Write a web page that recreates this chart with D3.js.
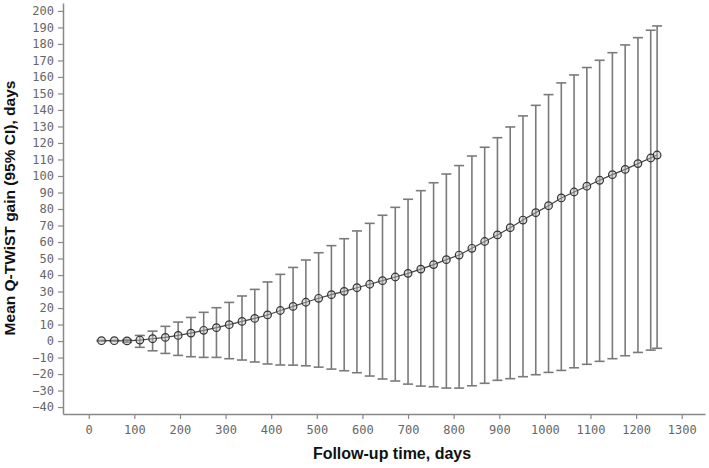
<!DOCTYPE html>
<html>
<head>
<meta charset="utf-8">
<script src="https://cdn.jsdelivr.net/npm/d3@7"></script>
<style>
  body { margin: 0; background: #fff; }
  .tick text { font-family: "DejaVu Sans Mono", monospace; font-size: 12px; fill: #666; }
  .axis-title { font-family: "Liberation Sans", Arial, sans-serif; font-weight: bold; fill: #111; }
</style>
</head>
<body>
<div id="chart"></div>
<script>
// follow-up time (days), one point every 4 weeks plus the last visit
const days = [28, 56, 84, 112, 140, 168, 196, 224, 252, 280, 308, 336, 364, 392, 420,
    448, 476, 504, 532, 560, 588, 616, 644, 672, 700, 728, 756, 784, 812, 840,
    868, 896, 924, 952, 980, 1008, 1036, 1064, 1092, 1120, 1148, 1176, 1204, 1232, 1246];
// mean Q-TWiST gain, days
const meanGain = [0.2, 0.2, 0.1, 0.6, 1.4, 2.2, 3.4, 4.8, 6.5, 8.1, 9.9, 11.9, 13.7, 15.8, 18.5,
    21.0, 23.5, 25.9, 28.1, 30.1, 32.3, 34.4, 36.6, 38.8, 41.0, 43.6, 46.3, 49.3, 52.1, 56.2,
    60.3, 64.3, 68.7, 73.3, 77.8, 82.0, 86.7, 90.3, 93.8, 97.4, 100.8, 104.0, 107.5, 110.9, 112.7];
// 95% CI bounds
const ciLow = [0, 0, -0.8, -3.8, -5.9, -7.5, -8.7, -9.5, -9.9, -9.9, -10.7, -11.5, -12.7, -13.9, -14.5,
    -14.6, -15.0, -15.8, -17.0, -18.0, -19.2, -21.2, -23.0, -24.2, -26.1, -27.3, -27.7, -28.5, -28.5, -27.1,
    -25.6, -23.8, -22.8, -21.6, -20.4, -19.0, -17.8, -16.2, -14.1, -12.3, -10.7, -8.9, -6.9, -5.5, -4.4];
const ciHigh = [0.4, 0.4, 0.9, 3.4, 6.0, 8.9, 11.5, 14.3, 17.4, 20.2, 23.4, 27.3, 31.3, 35.8, 40.4,
    44.6, 49.1, 53.5, 57.8, 62.0, 66.7, 71.3, 76.2, 81.0, 85.9, 91.1, 95.9, 101.2, 106.3, 112.1,
    117.4, 123.2, 129.7, 136.4, 142.8, 149.3, 156.4, 161.2, 165.7, 170.1, 174.7, 179.4, 183.8, 188.3, 190.9];

const xTicks = d3.range(0, 1301, 100);
const yTicks = d3.range(-40, 201, 10);

const data = days.map((d, i) => ({ day: d, mean: meanGain[i], lo: ciLow[i], hi: ciHigh[i] }));

const width = 709;
const height = 468;

const svg = d3.select("#chart").append("svg")
    .attr("width", width)
    .attr("height", height);

// scales
const xScale = d3.scaleLinear().domain([-56.4, 1351]).range([63, 705]);
const yScale = d3.scaleLinear().domain([-44.2, 204.8]).range([414, 3]);

// axes
const xAxis = svg.append("g")
    .attr("transform", `translate(0,${yScale.range()[0]})`)
    .call(d3.axisBottom(xScale).tickValues(xTicks).tickFormat(d3.format("d"))
        .tickSize(5).tickPadding(6).tickSizeOuter(0));

const yAxis = svg.append("g")
    .attr("transform", `translate(${xScale.range()[0]},0)`)
    .call(d3.axisLeft(yScale).tickValues(yTicks).tickSize(5).tickPadding(4).tickSizeOuter(0));

[xAxis, yAxis].forEach(g => {
    g.select(".domain").attr("stroke", "#888").attr("stroke-width", 1.5);
    g.selectAll(".tick line").attr("stroke", "#888").attr("stroke-width", 1.2);
});

// error bars
const bars = svg.append("g").selectAll("g")
    .data(data)
    .join("g")
    .attr("stroke", "#7a7a7a")
    .attr("stroke-width", 1.6);

bars.append("line")
    .attr("x1", d => xScale(d.day)).attr("x2", d => xScale(d.day))
    .attr("y1", d => yScale(d.lo)).attr("y2", d => yScale(d.hi));
bars.append("line")
    .attr("x1", d => xScale(d.day) - 5).attr("x2", d => xScale(d.day) + 5)
    .attr("y1", d => yScale(d.hi)).attr("y2", d => yScale(d.hi));
bars.append("line")
    .attr("x1", d => xScale(d.day) - 5).attr("x2", d => xScale(d.day) + 5)
    .attr("y1", d => yScale(d.lo)).attr("y2", d => yScale(d.lo));

// mean line
const line = d3.line()
    .x(d => xScale(d.day))
    .y(d => yScale(d.mean));

svg.append("path")
    .datum(data)
    .attr("fill", "none")
    .attr("stroke", "#444")
    .attr("stroke-width", 1.2)
    .attr("d", line);

// points (semi-transparent so the bar shows through, like the original)
svg.append("g").selectAll("circle")
    .data(data)
    .join("circle")
    .attr("cx", d => xScale(d.day))
    .attr("cy", d => yScale(d.mean))
    .attr("r", 3.8)
    .attr("fill", "#bdbdbd")
    .attr("fill-opacity", 0.45)
    .attr("stroke", "#333")
    .attr("stroke-width", 1.2);

// axis titles
svg.append("text")
    .attr("class", "axis-title")
    .attr("font-size", 16)
    .attr("x", 392)
    .attr("y", 459)
    .attr("text-anchor", "middle")
    .text("Follow-up time, days");

svg.append("text")
    .attr("class", "axis-title")
    .attr("font-size", 15.5)
    .attr("transform", "translate(15,208) rotate(-90)")
    .attr("text-anchor", "middle")
    .text("Mean Q-TWiST gain (95% CI), days");
</script>
</body>
</html>
